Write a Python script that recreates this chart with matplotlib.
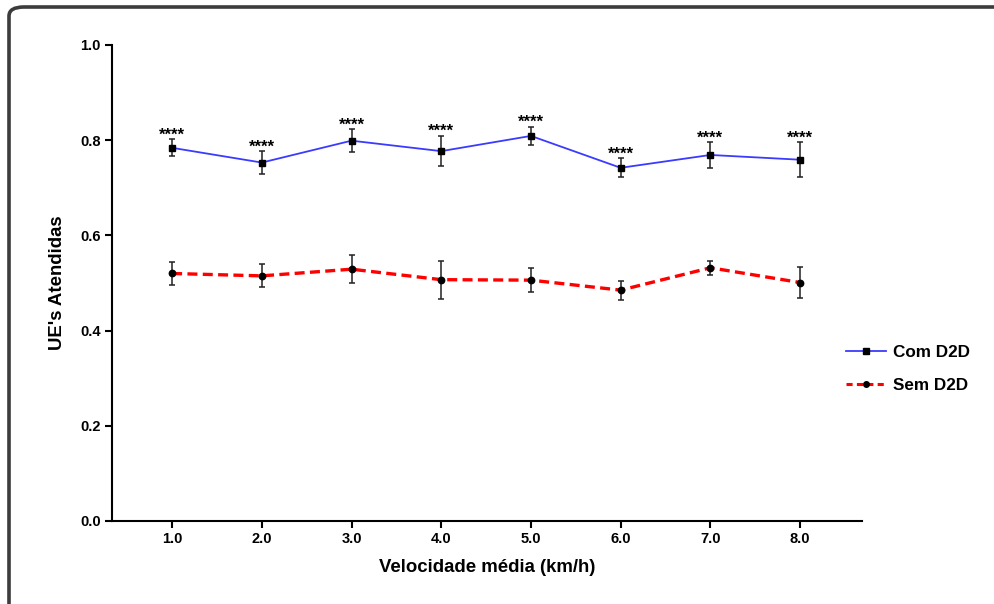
import matplotlib
matplotlib.use('Agg')
import matplotlib.pyplot as plt
from matplotlib.patches import FancyBboxPatch
from matplotlib.lines import Line2D

plt.rcParams['font.family'] = ['Liberation Sans', 'DejaVu Sans']
plt.rcParams['font.weight'] = 'bold'

# average speed (km/h)
velocidade = [1.0, 2.0, 3.0, 4.0, 5.0, 6.0, 7.0, 8.0]

# served UEs with D2D
com_d2d = [0.784, 0.753, 0.799, 0.777, 0.809, 0.742, 0.769, 0.759]
com_d2d_err = [0.018, 0.024, 0.024, 0.032, 0.019, 0.020, 0.027, 0.037]

# served UEs without D2D
sem_d2d = [0.520, 0.515, 0.529, 0.507, 0.506, 0.485, 0.532, 0.501]
sem_d2d_err = [0.024, 0.024, 0.029, 0.040, 0.025, 0.020, 0.015, 0.033]

signif = ['****'] * 8

fig = plt.figure(figsize=(9.95, 6.04), dpi=100)
ax = fig.add_axes([112 / 995, 1 - 521 / 604, 750 / 995, 476 / 604])

# rounded frame around the whole figure
frame = FancyBboxPatch((9 / 995, -0.05), 1.05, 1 - 7 / 604 + 0.05,
                       boxstyle='round,pad=0,rounding_size=0.015',
                       transform=fig.transFigure, fill=False,
                       edgecolor='#3c3c3c', linewidth=2.6, clip_on=False)
fig.patches.append(frame)

blue = '#3b3bff'
red = '#ff0000'
dash = (0, (3, 1.6))

ax.errorbar(velocidade, com_d2d, yerr=com_d2d_err, color=blue, lw=1.3,
            marker='s', ms=4.6, mfc='black', mec='black',
            ecolor='#222222', elinewidth=1.1, capsize=2.2, capthick=1.1,
            zorder=3)
ax.errorbar(velocidade, sem_d2d, yerr=sem_d2d_err, color=red, lw=2.4,
            ls=dash, marker='o', ms=4.6, mfc='black', mec='black',
            ecolor='#222222', elinewidth=1.1, capsize=2.2, capthick=1.1,
            zorder=3)

for x, y, e, s in zip(velocidade, com_d2d, com_d2d_err, signif):
    ax.annotate(s, (x, y + e), xytext=(0, 3), textcoords='offset points',
                ha='center', va='center', fontsize=12, fontweight='bold')

ax.set_xlim(0.33, 8.69)
ax.set_ylim(0, 1.0)
ax.set_xticks(velocidade)
ax.set_xticklabels(['%.1f' % v for v in velocidade])
ax.set_yticks([0.0, 0.2, 0.4, 0.6, 0.8, 1.0])
ax.set_yticklabels(['0.0', '0.2', '0.4', '0.6', '0.8', '1.0'])

for side in ['top', 'right']:
    ax.spines[side].set_visible(False)
for side in ['left', 'bottom']:
    ax.spines[side].set_linewidth(1.5)
ax.tick_params(direction='out', length=5, width=1.5, labelsize=10.5, pad=3)

ax.set_xlabel('Velocidade média (km/h)', fontsize=13.4, fontweight='bold', labelpad=9)
ax.set_ylabel("UE's Atendidas", fontsize=13.4, fontweight='bold', labelpad=10)

handles = [Line2D([], [], color=blue, lw=1.3, marker='s', ms=4, mfc='black', mec='black'),
           Line2D([], [], color=red, lw=2.2, ls=(0, (2, 1.4)), marker='o', ms=4,
                  mfc='black', mec='black')]
fig.legend(handles, ['Com D2D', 'Sem D2D'], loc='center left',
           bbox_to_anchor=(831 / 995, 1 - 369 / 604),
           frameon=False, fontsize=12.3, handlelength=2.3, labelspacing=1.1,
           handletextpad=0.45)

fig.savefig('out.png', dpi=100)
